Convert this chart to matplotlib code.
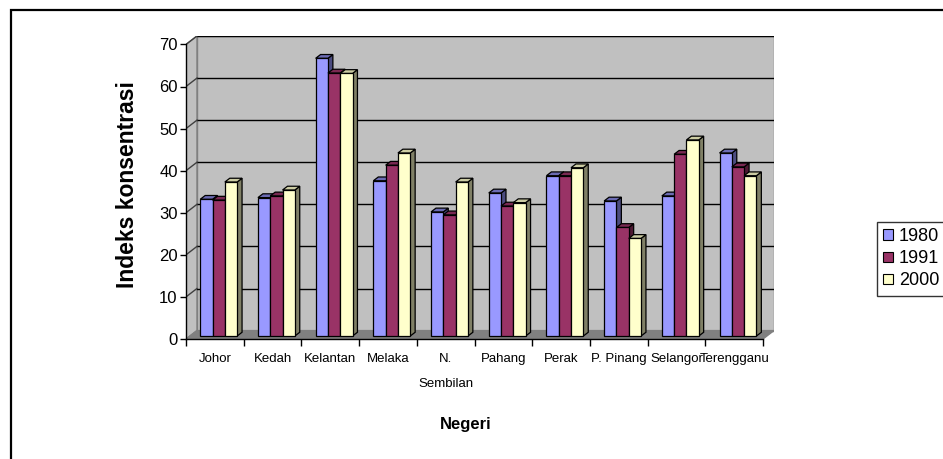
import numpy as np
import matplotlib.pyplot as plt
from matplotlib.patches import Polygon, Patch, Rectangle

plt.rcParams['font.family'] = ['Liberation Sans', 'DejaVu Sans']

# data
negeri = ["Johor", "Kedah", "Kelantan", "Melaka", "N.\nSembilan",
          "Pahang", "Perak", "P. Pinang", "Selangor", "Terengganu"]
years = ["1980", "1991", "2000"]
v1980 = [32.5, 32.9, 66.0, 36.9, 29.5, 34.0, 38.1, 32.1, 33.3, 43.5]
v1991 = [32.3, 33.3, 62.5, 40.6, 28.8, 30.9, 38.1, 25.8, 43.2, 40.2]
v2000 = [36.6, 34.7, 62.4, 43.5, 36.6, 31.7, 40.0, 23.2, 46.6, 38.1]
series = [v1980, v1991, v2000]

front_cols = ["#9999FF", "#993366", "#FFFFCC"]
side_cols = ["#4C4C80", "#4D1933", "#808066"]
top_cols = ["#6B6BB3", "#7A2952", "#CCCCA3"]

W, H = 943, 459
fig = plt.figure(figsize=(W / 100, H / 100), dpi=100)
fig.patch.set_facecolor("white")

# outer chart border (cropped on right and bottom)
fig.patches.append(Rectangle((11 / W, -0.1), 1.2, (H - 10) / H + 0.1,
                             transform=fig.transFigure, fill=False,
                             edgecolor="black", lw=1.6))

ax = fig.add_axes([186 / W, (H - 339) / H, (774 - 186) / W, (339 - 36) / H])
n = len(negeri)
DX, DY = 0.19, 2.0          # depth of the 3d box (data units)
ymax = 70
ax.set_xlim(0, n * 588 / 577)
ax.set_ylim(0, ymax + DY)
for s in ax.spines.values():
    s.set_visible(False)
ax.patch.set_visible(False)

wall = "#C0C0C0"
edge = "#808080"
# back wall, left wall, floor
ax.add_patch(Polygon([(DX, DY), (n + DX, DY), (n + DX, ymax + DY), (DX, ymax + DY)],
                     closed=True, fc=wall, ec=edge, lw=1, zorder=0))
ax.add_patch(Polygon([(0, 0), (DX, DY), (DX, ymax + DY), (0, ymax)],
                     closed=True, fc=wall, ec=edge, lw=1, zorder=0))
ax.add_patch(Polygon([(0, 0), (n, 0), (n + DX, DY), (DX, DY)],
                     closed=True, fc="#808080", ec=edge, lw=1, zorder=0.5))
for v in range(10, ymax + 1, 10):
    ax.plot([DX, n + DX], [v + DY, v + DY], color="black", lw=1, zorder=0.6)
    ax.plot([0, DX], [v, v + DY], color="#404040", lw=1, zorder=0.6)

# front axis lines
ax.plot([0, 0], [0, ymax], color="black", lw=1, zorder=1, clip_on=False)
ax.plot([0, n], [0, 0], color="black", lw=1, zorder=1, clip_on=False)

# bars with simple 3d look
bw = 0.213
f1, fd = 0.35, 0.45
start = 0.5 - 1.5 * bw
z = 2
for c in range(n):
    for i, vals in enumerate(series):
        v = vals[c]
        x0 = c + start + i * bw + f1 * DX
        b = f1 * DY
        ddx, ddy = fd * DX, fd * DY
        ax.add_patch(Polygon([(x0 + bw, b), (x0 + bw + ddx, b + ddy),
                              (x0 + bw + ddx, b + v + ddy), (x0 + bw, b + v)],
                             closed=True, fc=side_cols[i], ec="black", lw=0.9, zorder=z))
        ax.add_patch(Polygon([(x0, b + v), (x0 + bw, b + v),
                              (x0 + bw + ddx, b + v + ddy), (x0 + ddx, b + v + ddy)],
                             closed=True, fc=top_cols[i], ec="black", lw=0.9, zorder=z))
        ax.bar(x0, v, width=bw, bottom=b, align="edge", color=front_cols[i],
               edgecolor="black", lw=0.9, zorder=z + 0.5)
        z += 1

# ticks
ax.set_yticks(range(0, ymax + 1, 10))
ax.tick_params(axis="y", length=4, width=1, pad=2, labelsize=12)
ax.set_xticks(range(n + 1))
ax.set_xticklabels([])
ax.tick_params(axis="x", which="major", length=5, width=1)
ax.set_xticks(np.arange(n) + 0.5, minor=True)
ax.set_xticklabels(negeri, minor=True, fontsize=9.5, linespacing=2.5)
ax.tick_params(axis="x", which="minor", length=0, pad=10)

fig.text(127 / W, 1 - 185 / H, "Indeks konsentrasi", rotation=90,
         fontsize=16.5, fontweight="bold", ha="center", va="center")
fig.text(466 / W, 1 - 424 / H, "Negeri", fontsize=12, fontweight="bold",
         ha="center", va="center")

handles = [Patch(fc=front_cols[i], ec="black", lw=0.8) for i in range(3)]
leg = fig.legend(handles, years, loc="upper left",
                 bbox_to_anchor=(877 / W, 1 - 222 / H), fontsize=13,
                 frameon=True, fancybox=False, edgecolor="black",
                 handlelength=0.55, handleheight=0.55, handletextpad=0.3,
                 labelspacing=0.28, borderpad=0.35, borderaxespad=0)
leg.get_frame().set_linewidth(1)

fig.savefig("out.png", dpi=100)
